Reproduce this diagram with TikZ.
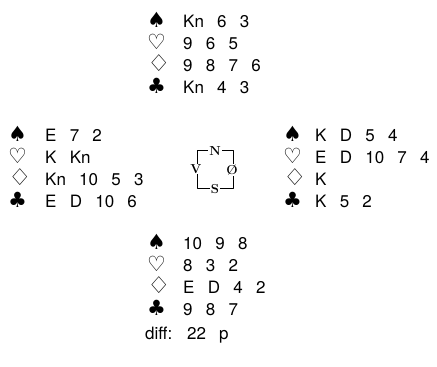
\documentclass[tikz,border=0pt]{standalone}
\usepackage{fontspec}
\usepackage{graphicx}
\setsansfont{TeX Gyre Heros}
\newfontfamily\suitfont{DejaVu Sans}
\usepackage{tikz}

\newcommand{\cardfont}{\sffamily\fontsize{17}{20}\selectfont
  \spaceskip=0.78em\relax}
\newcommand{\ruter}{\scalebox{1.25}[1.1]{♢}}

\begin{document}
\begin{tikzpicture}[x=1pt, y=-1pt, line cap=round, line join=round,
    suit/.style={anchor=base west, inner sep=0pt,
                 font=\suitfont\fontsize{21}{22}\selectfont},
    cards/.style={anchor=base west, inner sep=0pt, font=\cardfont},
    dir/.style={fill=white, inner sep=0.8pt,
                font=\rmfamily\bfseries\fontsize{13}{14}\selectfont}]

  \useasboundingbox (0,0) rectangle (437,367);

  %--- North hand -----------------------------------------------------------
  \foreach \st/\hd [count=\k] in {♠/Kn 6 3, ♡/9 6 5,
                                  \ruter/9 8 7 6, ♣/Kn 4 3} {
    \node[suit]  (Ns\k) at (147, 5+22*\k) {\st};
    \node[cards] (Nc\k) at (183, 5+22*\k) {\hd};
  }

  %--- West hand ------------------------------------------------------------
  \foreach \st/\hd [count=\k] in {♠/E 7 2, ♡/K Kn,
                                  \ruter/Kn 10 5 3, ♣/E D 10 6} {
    \node[suit]  (Vs\k) at (8, 119+22*\k) {\st};
    \node[cards] (Vc\k) at (45, 119+22*\k) {\hd};
  }

  %--- East hand ------------------------------------------------------------
  \foreach \st/\hd [count=\k] in {♠/K D 5 4, ♡/E D 10 7 4,
                                  \ruter/K, ♣/K 5 2} {
    \node[suit]  (Os\k) at (283, 119+22*\k) {\st};
    \node[cards] (Oc\k) at (315, 119+22*\k) {\hd};
  }

  %--- South hand -----------------------------------------------------------
  \foreach \st/\hd [count=\k] in {♠/10 9 8, ♡/8 3 2,
                                  \ruter/E D 4 2, ♣/9 8 7} {
    \node[suit]  (Ss\k) at (147, 227+22*\k) {\st};
    \node[cards] (Sc\k) at (183, 227+22*\k) {\hd};
  }

  \node[cards] (diff) at (145, 339) {diff: 22 p};

  %--- Compass --------------------------------------------------------------
  \draw[line width=1pt] (197,150) rectangle (233,188);
  \node[dir] (dN) at (215,151) {N};
  \node[dir] (dS) at (215,189) {S};
  \node[dir] (dV) at (196,169) {V};
  \node[dir] (dO) at (232,170) {\O};

\end{tikzpicture}
\end{document}
